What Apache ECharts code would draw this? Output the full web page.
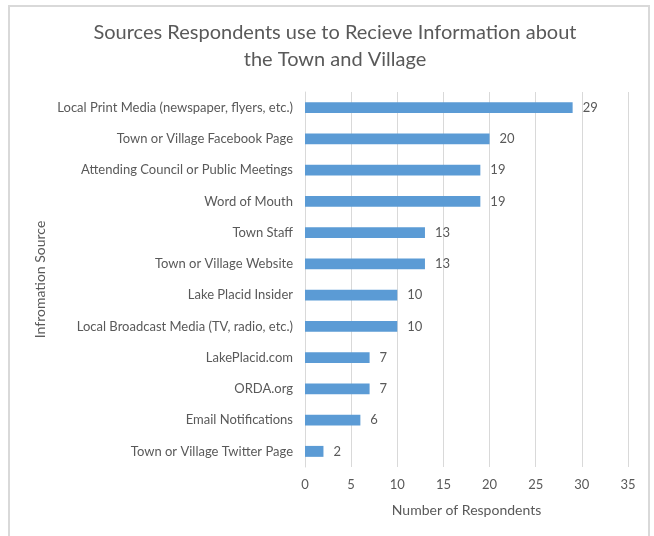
<!DOCTYPE html>
<html>
<head>
<meta charset="utf-8">
<script src="https://cdn.jsdelivr.net/npm/echarts@6/dist/echarts.min.js"></script>
<style>
  html, body { margin: 0; padding: 0; background: #fff; }
  #frame { position: absolute; left: 8px; top: 5px; width: 642px; height: 540px; border: 2px solid #d9d9d9; box-sizing: border-box; }
  #chart { position: absolute; left: 0; top: 0; width: 654px; height: 536px; }
</style>
</head>
<body>
<div id="frame"></div>
<div id="chart"></div>
<script>
// Information sources, listed top to bottom
const sources = [
  'Local Print Media (newspaper, flyers, etc.)',
  'Town or Village Facebook Page',
  'Attending Council or Public Meetings',
  'Word of Mouth',
  'Town Staff',
  'Town or Village Website',
  'Lake Placid Insider',
  'Local Broadcast Media (TV, radio, etc.)',
  'LakePlacid.com',
  'ORDA.org',
  'Email Notifications',
  'Town or Village Twitter Page'
];
const respondents = [29, 20, 19, 19, 13, 13, 10, 10, 7, 7, 6, 2];
const xTicks = { min: 0, max: 35, interval: 5 };

const FONT = 'Lato';
const TEXT = '#595959';

const chart = echarts.init(document.getElementById('chart'), null, { renderer: 'canvas' });
chart.setOption({
  animation: false,
  backgroundColor: 'transparent',
  textStyle: { fontFamily: FONT, color: TEXT },
  title: {
    text: 'Sources Respondents use to Recieve Information about\nthe Town and Village',
    left: 330,
    textAlign: 'center',
    top: 14,
    textStyle: { fontFamily: FONT, fontSize: 20, fontWeight: 'normal', color: TEXT, lineHeight: 27 }
  },
  grid: { left: 305, right: 26, top: 92, bottom: 69, containLabel: false },
  xAxis: {
    type: 'value',
    min: xTicks.min, max: xTicks.max, interval: xTicks.interval,
    name: 'Number of Respondents',
    nameLocation: 'middle',
    nameGap: 36,
    nameTextStyle: { fontFamily: FONT, fontSize: 14, color: TEXT },
    axisLine: { show: false },
    axisTick: { show: false },
    axisLabel: { fontFamily: FONT, fontSize: 13, color: TEXT, margin: 11 },
    splitLine: { show: true, lineStyle: { color: '#d9d9d9', width: 1 } }
  },
  yAxis: {
    type: 'category',
    data: sources,
    inverse: true,
    name: 'Infromation Source',
    nameLocation: 'middle',
    nameGap: 258,
    nameRotate: 90,
    nameTextStyle: { fontFamily: FONT, fontSize: 14, color: TEXT },
    axisLine: { show: true, lineStyle: { color: '#d9d9d9', width: 1 } },
    axisTick: { show: false },
    axisLabel: { fontFamily: FONT, fontSize: 13, color: TEXT, margin: 12 }
  },
  series: [{
    type: 'bar',
    data: respondents,
    barWidth: '35%',
    itemStyle: { color: '#5b9bd5' },
    label: { show: true, position: 'right', distance: 10, fontFamily: FONT, fontSize: 13, color: TEXT }
  }]
});
</script>
</body>
</html>
